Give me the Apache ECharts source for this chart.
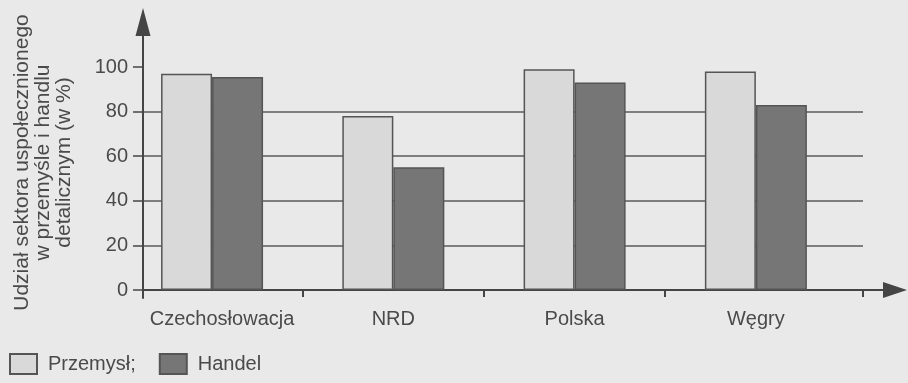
<!DOCTYPE html>
<html>
<head>
<meta charset="utf-8">
<script src="https://cdn.jsdelivr.net/npm/echarts@6/dist/echarts.min.js"></script>
<style>
html,body{margin:0;padding:0;background:#e9e9e9;}
#chart{width:908px;height:383px;}
</style>
</head>
<body>
<div id="chart"></div>
<script>
const categories = ['Czechosłowacja', 'NRD', 'Polska', 'Węgry'];
const przemysl = [97, 78, 99, 98];
const handel = [95.5, 55, 93, 83];
const yTicks = [0, 20, 40, 60, 80, 100];
const seriesNames = ['Przemysł', 'Handel'];
const yTitle = 'Udział sektora uspołecznionego\nw przemyśle i handlu\ndetalicznym (w %)';

const txt = '#4a4a4a';
const axisCol = '#454545';
const font = 'Liberation Sans, Arial, sans-serif';

const chart = echarts.init(document.getElementById('chart'), null, {renderer: 'canvas'});
chart.setOption({
  animation: false,
  backgroundColor: '#e9e9e9',
  textStyle: {fontFamily: font},
  legend: {
    data: seriesNames,
    left: 4, top: 348,
    itemWidth: 27, itemHeight: 20, itemGap: 23,
    icon: 'rect',
    formatter: n => n === 'Przemysł' ? n + ';' : n,
    textStyle: {fontSize: 20, color: txt, fontFamily: font, padding: [0, 0, 0, 6]}
  },
  grid: [
    {left: 143, right: 45, top: 67, bottom: 93},
    {left: 143, right: 13, top: 22, bottom: 85}
  ],
  xAxis: [
    {
      gridIndex: 0, type: 'value', min: -0.381, max: 3.591,
      axisLine: {show: false, onZero: false},
      splitLine: {show: false},
      axisTick: {show: true, customValues: [0.5, 1.5, 2.5, 3.591], length: 7, lineStyle: {color: axisCol, width: 2}},
      axisLabel: {
        customValues: [0, 1, 2, 3],
        formatter: v => {
          const i = Math.round(v);
          return i === 0 ? '{first|' + categories[0] + '}' : '{n|' + (categories[i] || '') + '}';
        },
        margin: 19,
        rich: {
          first: {fontSize: 20, color: txt, fontFamily: font, padding: [0, 0, 0, 20]},
          n: {fontSize: 20, color: txt, fontFamily: font}
        },
        fontSize: 20, color: txt, fontFamily: font
      }
    },
    {
      gridIndex: 1, type: 'value', min: 0, max: 1,
      axisLine: {show: true, onZero: true, symbol: ['none', 'triangle'], symbolSize: [16, 24], lineStyle: {color: axisCol, width: 2}},
      axisTick: {show: false}, axisLabel: {show: false}, splitLine: {show: false}
    }
  ],
  yAxis: [
    {
      gridIndex: 0, type: 'value', min: 0, max: 100, interval: 20,
      axisLine: {show: false, onZero: false},
      axisTick: {show: true, length: 10, lineStyle: {color: axisCol, width: 1.5}},
      axisLabel: {fontSize: 20, color: txt, margin: 15, fontFamily: font},
      splitLine: {show: true, showMaxLine: false, showMinLine: false, lineStyle: {color: '#5a5a5a', width: 1.5}},
      name: yTitle,
      nameLocation: 'middle',
      nameRotate: 90,
      nameGap: 68,
      nameTextStyle: {fontSize: 21, color: txt, lineHeight: 21, align: 'center', padding: [0, 0, 0, 32], fontFamily: font}
    },
    {
      gridIndex: 1, type: 'value', min: -3.6, max: 120.2,
      axisLine: {show: true, onZero: true, symbol: ['none', 'triangle'], symbolSize: [15, 28], lineStyle: {color: axisCol, width: 2}},
      axisTick: {show: false}, axisLabel: {show: false}, splitLine: {show: false}
    }
  ],
  series: [
    {
      name: seriesNames[0], type: 'bar', xAxisIndex: 0, yAxisIndex: 0,
      barWidth: 51, barGap: '0%',
      itemStyle: {color: '#d9d9d9', borderColor: '#555', borderWidth: 1.5},
      data: przemysl.map((v, i) => [i, v])
    },
    {
      name: seriesNames[1], type: 'bar', xAxisIndex: 0, yAxisIndex: 0,
      barWidth: 51, barGap: '0%',
      itemStyle: {color: '#767676', borderColor: '#555', borderWidth: 1.5},
      data: handel.map((v, i) => [i, v])
    }
  ]
});
</script>
</body>
</html>
